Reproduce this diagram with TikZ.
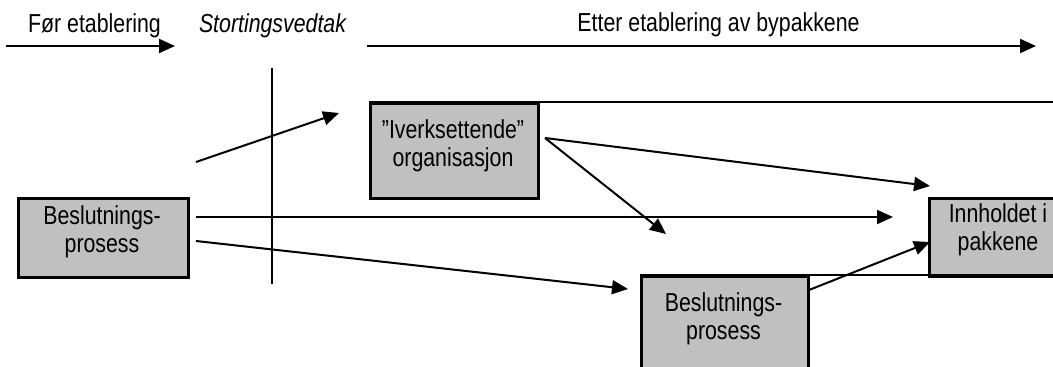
\documentclass[tikz,border=0pt]{standalone}
\usepackage{fontspec}
\setmainfont{Liberation Sans}[FakeStretch=0.82]
\usetikzlibrary{arrows.meta}
\definecolor{boxgray}{HTML}{C0C0C0}
\tikzset{
  txt/.style={inner sep=0pt, font=\fontsize{26}{28}\selectfont, align=center},
  gbox/.style={draw=black, fill=boxgray, line width=2.5pt, rectangle, inner sep=0pt, anchor=north west},
  conn/.style={line width=2pt, -{Triangle[length=16pt,width=14pt]}},
  rule/.style={line width=2.5pt},
}
\begin{document}
\begin{tikzpicture}[x=1pt,y=-1pt]
\clip (0,0) rectangle (1053,367);
% headings
\node[txt, anchor=base] (fore) at (94.5,32) {Før etablering};
\node[txt, anchor=base] (vedtak) at (272.5,32) {\itshape Stortingsvedtak};
\node[txt, anchor=base] (etter) at (718.5,31) {Etter etablering av bypakkene};
\coordinate (a1s) at (6,46);
\coordinate (a1e) at (175,46);
\coordinate (a2s) at (367,46);
\coordinate (a2e) at (1036,46);
\draw[conn] (a1s) -- (a1e);
\draw[conn] (a2s) -- (a2e);
% vertical line
\coordinate (vtop) at (272,68);
\coordinate (vbot) at (272,284);
\draw[rule] (vtop) -- (vbot);
% boxes
\node[gbox, minimum width=170pt, minimum height=79pt] (left) at (17,197) {};
\node[gbox, minimum width=168pt, minimum height=95pt] (ivk) at (369,102) {};
\node[gbox, minimum width=160pt, minimum height=78pt] (inn) at (928,197) {};
\node[gbox, minimum width=167pt, minimum height=150pt] (low) at (640,275) {};
\coordinate (topR) at (1070,102);
\coordinate (lowR) at (1070,275);
\draw[rule] (ivk.north west) -- (topR);
\draw[rule] (low.north west) -- (lowR);
% box texts
\node[txt] (leftT) at (102,232) {Beslutnings-\\prosess};
\node[txt] (ivkT) at (453,146) {"Iverksettende"\\organisasjon};
\node[txt] (innT) at (998,230) {Innholdet i\\pakkene};
\node[txt] (lowT) at (723.5,319) {Beslutnings-\\prosess};
% arrows
\coordinate (p1s) at (196,162); \coordinate (p1e) at (339,113);
\coordinate (p2s) at (545,138); \coordinate (p2e) at (930,186);
\coordinate (p3e) at (666,234);
\coordinate (p4s) at (196,217); \coordinate (p4e) at (893,217);
\coordinate (p5s) at (196,241); \coordinate (p5e) at (628,289);
\coordinate (p6s) at (809,290); \coordinate (p6e) at (930,242);
\draw[conn] (p1s) -- (p1e);
\draw[conn] (p2s) -- (p2e);
\draw[conn] (p2s) -- (p3e);
\draw[conn] (p4s) -- (p4e);
\draw[conn] (p5s) -- (p5e);
\draw[conn] (p6s) -- (p6e);
\end{tikzpicture}
\end{document}
